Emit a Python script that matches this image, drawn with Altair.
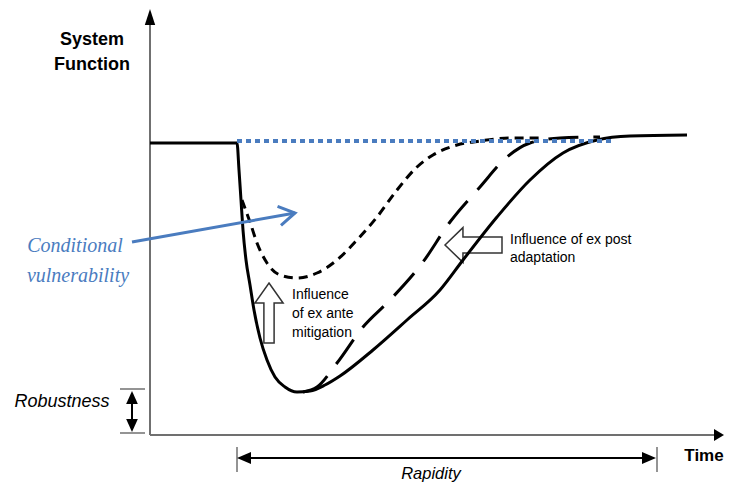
import altair as alt
import pandas as pd

# ---- data (time t, system function f) ----
solid_t = [0, 87, 89, 91, 93, 96, 100, 104, 110, 117, 125, 135, 147, 160, 175, 190, 223, 257, 290, 313, 347, 380, 413, 447, 480, 537]
solid_f = [292, 292, 265, 235, 205, 175, 150, 125, 97, 75, 58, 48, 43, 44, 50, 59, 85, 115, 145, 175, 218, 255, 282, 295, 299, 300]

ante_t = [92, 96, 100, 107, 117, 130, 147, 167, 187, 207, 227, 247, 267, 283, 307, 330, 360, 390]
ante_f = [235, 224, 213, 192, 172, 160, 157, 162, 175, 195, 218, 245, 268, 280, 290, 294, 297, 297]

post_t = [153, 167, 187, 213, 240, 273, 300, 330, 357, 380, 410, 450]
post_f = [43, 48, 72, 108, 135, 173, 213, 248, 278, 292, 297, 298]

target_t = [87, 462]
target_f = [294, 294]

BLUE = "#4a7cbf"
GREY = "#707070"
FONT = "Liberation Sans"

xs = alt.Scale(domain=[-142, 575])
ys = alt.Scale(domain=[-48, 427])


def X(field="t"):
    return alt.X(f"{field}:Q", scale=xs, axis=None)


def Y(field="f"):
    return alt.Y(f"{field}:Q", scale=ys, axis=None)


def curve(ts, fs, **kw):
    df = pd.DataFrame({"t": ts, "f": fs})
    return alt.Chart(df).mark_line(interpolate="monotone", **kw).encode(x=X(), y=Y())


def rule(t, t2, f, f2, **kw):
    df = pd.DataFrame({"t": [t], "t2": [t2], "f": [f], "f2": [f2]})
    return alt.Chart(df).mark_rule(**kw).encode(
        x=X(), x2=alt.X2("t2:Q"), y=Y(), y2=alt.Y2("f2:Q"))


def symbol(t, f, shape, size, **kw):
    df = pd.DataFrame({"t": [t], "f": [f]})
    return alt.Chart(df).mark_point(shape=shape, size=size, opacity=1, **kw).encode(x=X(), y=Y())


def label(t, f, text, baseline="middle", **kw):
    df = pd.DataFrame({"t": [t], "f": [f], "txt": [text]})
    return alt.Chart(df).mark_text(baseline=baseline, **kw).encode(x=X(), y=Y(), text="txt:N")


TRI_UP = "M0,-1L0.65,1L-0.65,1Z"
TRI_UP2 = "M0,-1L0.9,1L-0.9,1Z"
TRI_DOWN2 = "M0,1L0.9,-1L-0.9,-1Z"
TRI_RIGHT = "M1,0L-1,-1.2L-1,1.2Z"
TRI_LEFT_R = "M-1,0L1,-0.85L1,0.85Z"
TRI_RIGHT_R = "M1,0L-1,-0.85L-1,0.85Z"
HOLLOW_LEFT = "M-1,0L-0.37,-0.61L-0.37,-0.28L1,-0.28L1,0.28L-0.37,0.28L-0.37,0.61Z"
HOLLOW_UP = "M0,-1L0.47,-0.33L0.17,-0.33L0.17,1L-0.17,1L-0.17,-0.33L-0.47,-0.33Z"
CHEVRON = "M-1,-0.6L0,0L-1,0.6"

layers = [
    # axes
    rule(0, 0, 0, 410, color=GREY, strokeWidth=2),
    symbol(0, 418, TRI_UP, 256, filled=True, color="black"),
    rule(0, 566, 0, 0, color=GREY, strokeWidth=2),
    symbol(569, 0, TRI_RIGHT, 100, filled=True, color="black"),
    # hollow arrows
    symbol(323.5, 190, HOLLOW_LEFT, 3249, filled=True, fill="white", stroke="#333333", strokeWidth=1.5),
    symbol(119, 122, HOLLOW_UP, 3600, filled=True, fill="white", stroke="#333333", strokeWidth=1.5),
    # curves
    curve(post_t, post_f, color="black", strokeWidth=3, strokeDash=[30, 15]),
    curve(ante_t, ante_f, color="black", strokeWidth=3, strokeDash=[9, 6]),
    curve(solid_t, solid_f, color="black", strokeWidth=3),
    curve(target_t, target_f, color=BLUE, strokeWidth=4, strokeDash=[5, 4], strokeCap="butt"),
    # conditional vulnerability arrow
    rule(-18, 145, 193, 222, color=BLUE, strokeWidth=3),
    symbol(145, 222, CHEVRON, 1024, filled=False, color=BLUE, strokeWidth=3, angle=349.6),
    # robustness bracket
    rule(-30, -5, 46, 46, color=GREY, strokeWidth=1.5),
    rule(-30, -5, 2, 2, color=GREY, strokeWidth=1.5),
    rule(-18, -18, 10, 38, color="black", strokeWidth=2),
    symbol(-18, 37.5, TRI_UP2, 169, filled=True, color="black"),
    symbol(-18, 9.5, TRI_DOWN2, 169, filled=True, color="black"),
    # rapidity bracket
    rule(87, 87, -12, -37, color=GREY, strokeWidth=1.5),
    rule(507, 507, -12, -37, color=GREY, strokeWidth=1.5),
    rule(92, 502, -23, -23, color="black", strokeWidth=2),
    symbol(94, -23, TRI_LEFT_R, 196, filled=True, color="black"),
    symbol(499, -23, TRI_RIGHT_R, 196, filled=True, color="black"),
    # texts
    label(-58, 395, "System", font=FONT, fontSize=18, fontWeight="bold", align="center", color="black"),
    label(-58, 370, "Function", font=FONT, fontSize=18, fontWeight="bold", align="center", color="black"),
    label(554, -21, "Time", font=FONT, fontSize=17, fontWeight="bold", align="center", color="black"),
    label(281, -43.5, "Rapidity", baseline="alphabetic", font=FONT, fontSize=16.5, fontStyle="italic", align="center", color="black"),
    label(-88, 33, "Robustness", font=FONT, fontSize=18, fontStyle="italic", align="center", color="black"),
    label(-75, 189, "Conditional", font="Liberation Serif", fontSize=20, fontStyle="italic", align="center", color=BLUE),
    label(-72, 159, "vulnerability", font="Liberation Serif", fontSize=20, fontStyle="italic", align="center", color=BLUE),
    label(142, 140, "Influence", font=FONT, fontSize=14, align="left", color="black"),
    label(142, 121, "of ex ante", font=FONT, fontSize=14, align="left", color="black"),
    label(142, 102, "mitigation", font=FONT, fontSize=14, align="left", color="black"),
    label(360, 195, "Influence of ex post", font=FONT, fontSize=14, align="left", color="black"),
    label(360, 177, "adaptation", font=FONT, fontSize=14, align="left", color="black"),
]

chart = alt.layer(*layers).properties(
    width=717, height=475, padding=0, autosize="none", background="white"
).configure_view(stroke=None)

chart.save("out.html", embed_options={"renderer": "svg", "actions": False})
